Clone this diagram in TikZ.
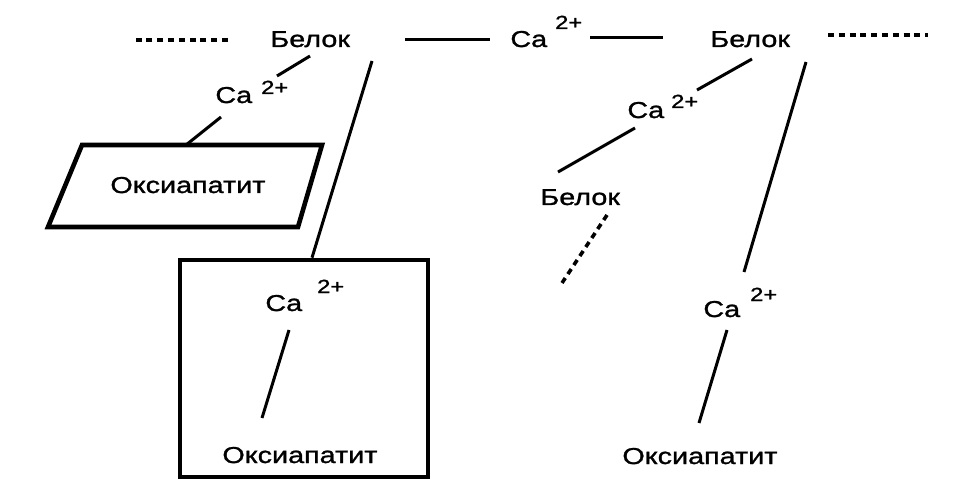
\documentclass[tikz,border=0pt]{standalone}
\usepackage{fontspec}
\setmainfont{Liberation Sans}[FakeStretch=1.25,FakeBold=1.2]
\newcommand\caion[2]{Ca\hspace*{#1}\raisebox{#2}{\fontsize{9.5}{10}\selectfont 2+}}

\begin{document}
\begin{tikzpicture}[x=0.5pt,y=-0.5pt,
  lbl/.style={inner sep=0pt,anchor=base west,font=\fontsize{11.5}{13}\selectfont},
  frm/.style={draw,line width=2.3pt,line join=miter},
  lnk/.style={line width=1.5pt},
  dots/.style={line width=1.8pt,dash pattern=on 3pt off 2.4pt}]
 \useasboundingbox (0,0) rectangle (969,497);
 % top row
 \node[lbl] (blkL) at (270,47) {Белок};
 \node[lbl] (caT) at (510,47) {\caion{4pt}{9pt}};
 \node[lbl] (blkR) at (710,47) {Белок};
 % left branch
 \node[lbl] (caL) at (215,103) {\caion{4.5pt}{4.5pt}};
 \draw[frm] (82,145) -- (322,145) -- (298,227) -- (48,227) -- cycle;
 \coordinate (parTop) at (186,145);
 \node[lbl] (oksL) at (110,193) {Оксиапатит};
 \node[frm,inner sep=0pt,minimum width=124pt,minimum height=108.5pt] (boxB) at (304,368.5) {};
 \node[lbl] (caB) at (265,311) {\caion{7.5pt}{9pt}};
 \node[lbl] (oksB) at (222,463) {Оксиапатит};
 % right branch
 \node[lbl] (caM) at (627,118) {\caion{3.5pt}{5pt}};
 \node[lbl] (blkM) at (540,205) {Белок};
 \node[lbl] (caR) at (703,317) {\caion{5pt}{8pt}};
 \node[lbl] (oksR) at (622,464) {Оксиапатит};
 % links
 \draw[dots] ([shift={(-42,-7)}]blkL.base west) -- ++(-95,0);
 \draw[lnk] ([shift={(135,-7)}]blkL.base west) -- ([shift={(-20,-7)}]caT.base west);
 \draw[lnk] ([shift={(80,-9)}]caT.base west) -- ([shift={(-47,-9)}]blkR.base west);
 \draw[dots] ([shift={(118,-12)}]blkR.base west) -- ++(100,0);
 \draw[lnk] ([shift={(40,9)}]blkL.base west) -- ([shift={(62,-27)}]caL.base west);
 \draw[lnk] ([shift={(6,14)}]caL.base west) -- (parTop);
 \draw[lnk] ([shift={(102,14)}]blkL.base west) -- ([shift={(8,0)}]boxB.north);
 \draw[lnk] ([shift={(24,19)}]caB.base west) -- ([shift={(40,-45)}]oksB.base west);
 \draw[lnk] ([shift={(42,12)}]blkR.base west) -- ([shift={(70,-28)}]caM.base west);
 \draw[lnk] ([shift={(8,10)}]caM.base west) -- ([shift={(18,-33)}]blkM.base west);
 \draw[dots] ([shift={(67,10)}]blkM.base west) -- ++(-45,68);
 \draw[lnk] ([shift={(96,15)}]blkR.base west) -- ([shift={(41,-45)}]caR.base west);
 \draw[lnk] ([shift={(24,13)}]caR.base west) -- ([shift={(77,-41)}]oksR.base west);
\end{tikzpicture}
\end{document}
